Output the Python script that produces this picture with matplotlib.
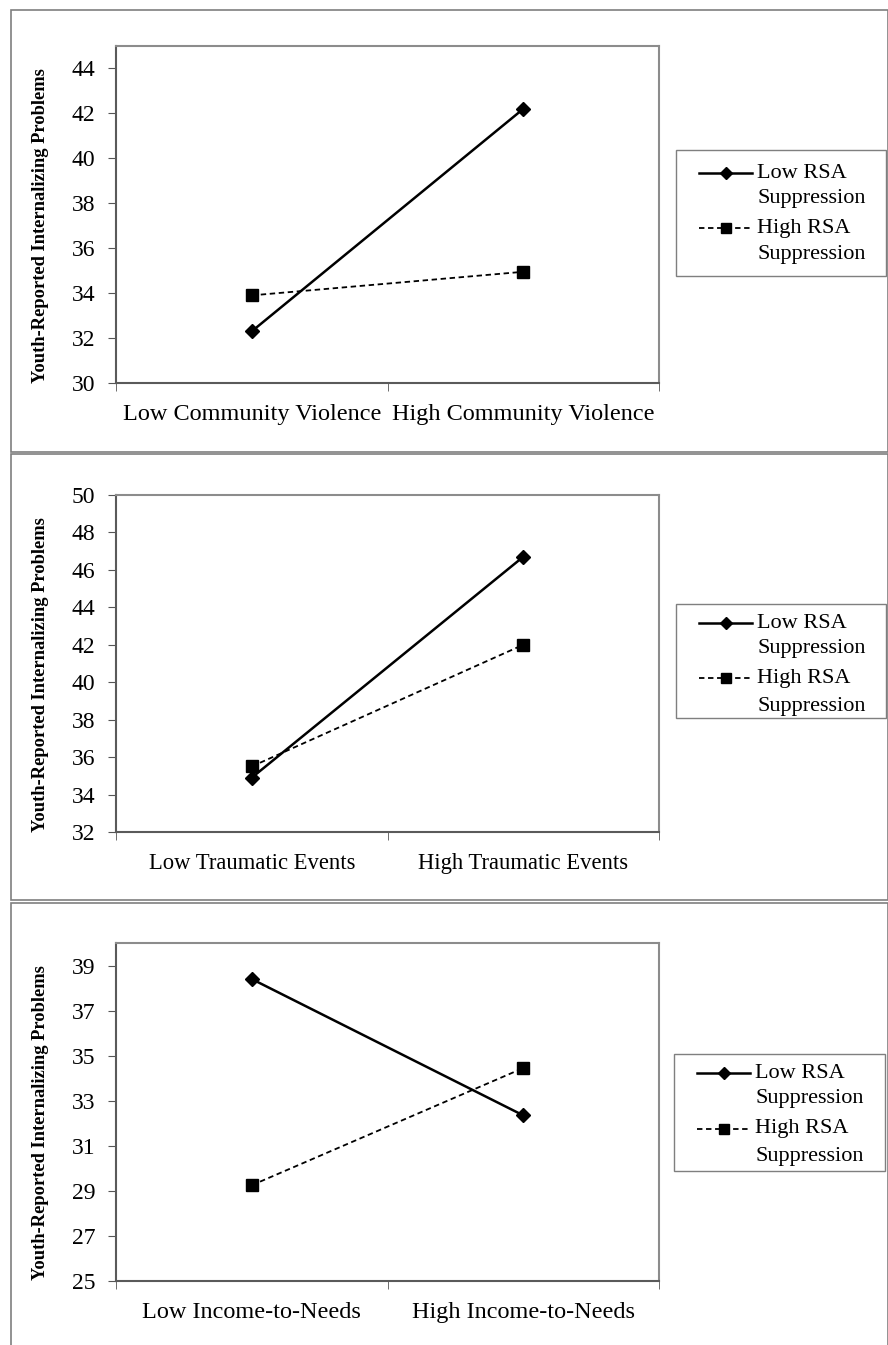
import matplotlib
matplotlib.use("Agg")
import matplotlib.pyplot as plt
from matplotlib.patches import Rectangle
from matplotlib.lines import Line2D

plt.rcParams['font.family'] = ['Liberation Serif', 'DejaVu Serif']

W, H = 888, 1345

# ---- data ----
cats1 = ["Low Community Violence", "High Community Violence"]
low_rsa1 = [32.3, 42.2]
high_rsa1 = [33.9, 34.95]
yticks1 = [30, 32, 34, 36, 38, 40, 42, 44]

cats2 = ["Low Traumatic Events", "High Traumatic Events"]
low_rsa2 = [34.9, 46.7]
high_rsa2 = [35.5, 42.0]
yticks2 = [32, 34, 36, 38, 40, 42, 44, 46, 48, 50]

cats3 = ["Low Income-to-Needs", "High Income-to-Needs"]
low_rsa3 = [38.4, 32.35]
high_rsa3 = [29.25, 34.45]
yticks3 = [25, 27, 29, 31, 33, 35, 37, 39]

series_lines = [["Low RSA", "Suppression"], ["High RSA", "Suppression"]]
ylabel = "Youth-Reported Internalizing Problems"

panels = [
    dict(cats=cats1, low=low_rsa1, high=high_rsa1, yticks=yticks1, ylim=(30, 45), catfs=17.5,
         frame=(11, 10, 877, 442), ax=(116, 46, 659, 383), leg=(676, 150, 210, 126),
         legoff=[(23, 49), (78, 105)]),
    dict(cats=cats2, low=low_rsa2, high=high_rsa2, yticks=yticks2, ylim=(32, 50), catfs=16.3,
         frame=(11, 454, 877, 446), ax=(116, 495, 659, 832), leg=(676, 604, 210, 114),
         legoff=[(19, 45), (74, 102)]),
    dict(cats=cats3, low=low_rsa3, high=high_rsa3, yticks=yticks3, ylim=(25, 40), catfs=17.5,
         frame=(11, 903, 877, 460), ax=(116, 943, 659, 1281), leg=(674, 1054, 211, 117),
         legoff=[(19, 45), (75, 103)]),
]

fig = plt.figure(figsize=(W / 100, H / 100), dpi=100)

def fx(x):
    return x / W

def fy(y):
    return 1 - y / H

styles = [
    dict(color='black', linestyle='-', linewidth=1.8, marker='D', markersize=7.5,
         markerfacecolor='black', markeredgecolor='black'),
    dict(color='black', linestyle=(0, (3, 2)), linewidth=1.3, marker='s', markersize=8,
         markerfacecolor='black', markeredgecolor='black'),
]

for p in panels:
    x0, y0, w, h = p['frame']
    fig.patches.append(Rectangle((fx(x0), fy(y0 + h)), w / W, h / H, transform=fig.transFigure,
                                 fill=False, edgecolor='#7f7f7f', linewidth=1.2))
    l, t, r, b = p['ax']
    ax = fig.add_axes([fx(l), fy(b), (r - l) / W, (b - t) / H])
    xs = list(range(len(p['cats'])))
    ax.plot(xs, p['low'], **styles[0])
    ax.plot(xs, p['high'], **styles[1])
    ax.set_xlim(-0.5, len(xs) - 0.5)
    ax.set_ylim(*p['ylim'])
    ax.set_yticks(p['yticks'])
    ax.set_yticklabels([str(v) for v in p['yticks']], fontsize=17)
    ax.set_xticks(xs)
    ax.set_xticklabels(p['cats'], fontsize=p['catfs'])
    ax.set_xticks([i - 0.5 for i in range(len(xs) + 1)], minor=True)
    ax.tick_params(axis='x', which='major', length=0, pad=15)
    ax.tick_params(axis='x', which='minor', length=6, direction='out', color='#555555')
    ax.tick_params(axis='y', length=6, direction='out', color='#555555', pad=9)
    for s in ['top', 'right']:
        ax.spines[s].set_color('#8c8c8c')
        ax.spines[s].set_linewidth(1.5)
    for s in ['left', 'bottom']:
        ax.spines[s].set_color('#5a5a5a')
        ax.spines[s].set_linewidth(1.5)
    ax.set_ylabel(ylabel, fontsize=13.3, fontweight='bold')
    ax.yaxis.set_label_coords(-(116 - 49) / (r - l), 0.5 - 11 / (b - t))

    # legend (manual, to keep the handle on the first text line)
    lx, ly, lw, lh = p['leg']
    fig.patches.append(Rectangle((fx(lx), fy(ly + lh)), lw / W, lh / H, transform=fig.transFigure,
                                 fill=False, edgecolor='#7f7f7f', linewidth=1.0))
    hx0, hx1, tx = lx + 23, lx + 76, lx + 81
    for st, lines, (o1, o2) in zip(styles, series_lines, p['legoff']):
        yy = fy(ly + o1)
        ms = st['markersize'] - 1
        fig.add_artist(Line2D([fx(hx0), fx(hx1)], [yy, yy], transform=fig.transFigure,
                              color='black', linestyle=st['linestyle'],
                              linewidth=st['linewidth']))
        fig.add_artist(Line2D([fx((hx0 + hx1) / 2)], [yy], transform=fig.transFigure,
                              linestyle='none', marker=st['marker'],
                              markersize=ms, color='black'))
        fig.text(fx(tx), yy, lines[0], fontsize=16, va='center', ha='left')
        fig.text(fx(tx), fy(ly + o2), lines[1], fontsize=16, va='center', ha='left')

fig.savefig('out.png', dpi=100, facecolor='white')
